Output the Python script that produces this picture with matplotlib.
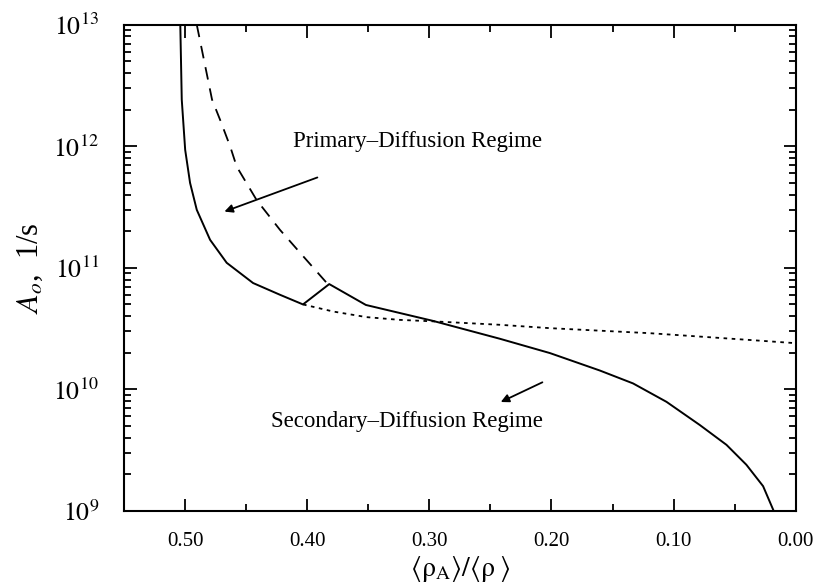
import matplotlib
matplotlib.use("Agg")
from matplotlib import pyplot as plt
from matplotlib.ticker import MultipleLocator, LogLocator, NullFormatter

plt.rcParams['font.family'] = ['Liberation Serif', 'DejaVu Serif']
plt.rcParams['mathtext.fontset'] = 'stix'

# solid curve (full model), x = <rho_A>/<rho>
solid_x = [0.504, 0.5028, 0.500, 0.496, 0.4905, 0.4796, 0.466, 0.4444, 0.4223,
           0.4035, 0.382, 0.352, 0.297, 0.2423, 0.2013, 0.1604, 0.1332, 0.1058,
           0.0786, 0.0567, 0.0404, 0.0267, 0.018]
solid_y = [1.0e13, 2.42e12, 9.35e11, 5.0e11, 3.0e11, 1.70e11, 1.10e11, 7.5e10, 6.0e10,
           5.0e10, 7.35e10, 4.95e10, 3.66e10, 2.61e10, 1.99e10, 1.43e10, 1.12e10, 7.9e9,
           5.1e9, 3.5e9, 2.4e9, 1.6e9, 1.0e9]

# dashed curve
dash_x = [0.4905, 0.478, 0.4714, 0.4632, 0.4578, 0.4414, 0.4223, 0.4032, 0.384, 0.382]
dash_y = [1.0e13, 2.42e12, 1.65e12, 1.0e12, 6.8e11, 3.6e11, 2.05e11, 1.24e11, 7.5e10, 7.35e10]

# dotted curve
dot_x = [0.4035, 0.3787, 0.3514, 0.324, 0.297, 0.2423, 0.2013, 0.1195, 0.0786, 0.0376, 0.0]
dot_y = [5.0e10, 4.37e10, 3.93e10, 3.73e10, 3.63e10, 3.40e10, 3.19e10, 2.90e10, 2.72e10,
         2.55e10, 2.40e10]

x_ticks = [0.50, 0.40, 0.30, 0.20, 0.10, 0.00]
y_ticks = [1e9, 1e10, 1e11, 1e12, 1e13]
y_ticklabels = [r'$10^{9}$', r'$10^{10}$', r'$10^{11}$', r'$10^{12}$', r'$10^{13}$']

fig = plt.figure(figsize=(8.22, 5.88), dpi=100)
ax = fig.add_axes([0.151, 0.131, 0.817, 0.827])

ax.plot(solid_x, solid_y, color='k', lw=1.4)
ax.plot(dash_x, dash_y, color='k', lw=1.3, linestyle=(0, (7, 5)))
ax.plot(dot_x, dot_y, color='k', lw=1.3, linestyle=(0, (2, 2.5)))

ax.set_yscale('log')
ax.set_xlim(0.55, 0.0)
ax.set_ylim(1e9, 1e13)

ax.set_xticks(x_ticks)
ax.set_xticklabels(['%.2f' % v for v in x_ticks], fontsize=15)
ax.xaxis.set_minor_locator(MultipleLocator(0.05))
ax.set_yticks(y_ticks)
ax.set_yticklabels(y_ticklabels, fontsize=18.5)
ax.yaxis.set_minor_locator(LogLocator(base=10, subs=range(2, 10)))
ax.yaxis.set_minor_formatter(NullFormatter())

ax.tick_params(which='both', direction='in', top=True, right=True, width=1.3)
ax.tick_params(which='major', length=9)
ax.tick_params(which='minor', length=5)
ax.tick_params(axis='x', which='major', pad=15)
ax.tick_params(axis='y', which='major', pad=18)
for s in ax.spines.values():
    s.set_linewidth(1.5)

ax.set_xlabel(r'$\langle\mathrm{\rho}_{\mathrm{A}}\rangle/\langle\mathrm{\rho}\;\rangle$',
              fontsize=20, labelpad=2)
ax.set_ylabel(r'$A_o$,  1/s', fontsize=22, labelpad=6)

ax.text(0.310, 1.1e12, 'Primary\u2013Diffusion Regime', fontsize=16.5,
        ha='center', va='center')
ax.text(0.318, 5.4e9, 'Secondary\u2013Diffusion Regime', fontsize=16.5,
        ha='center', va='center')

ax.annotate('', xy=(0.470, 2.85e11), xytext=(0.3896, 5.64e11),
            arrowprops=dict(arrowstyle='-|>', color='k', lw=1.3, mutation_scale=12))
ax.annotate('', xy=(0.2436, 7.7e9), xytext=(0.2054, 1.17e10),
            arrowprops=dict(arrowstyle='-|>', color='k', lw=1.3, mutation_scale=12))

plt.savefig('out.png', dpi=100)
